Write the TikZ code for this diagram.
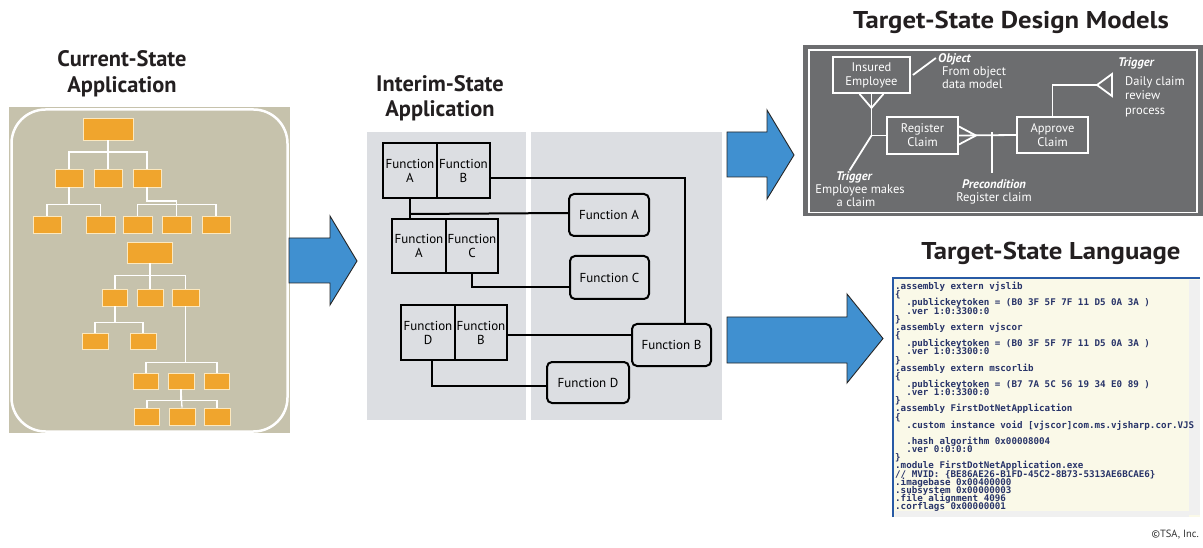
\documentclass[tikz,border=0pt]{standalone}
\usepackage{fontspec}
\setmainfont{PT Sans}
\newfontfamily\codefont{DejaVu Sans Mono}
\newfontfamily\widefont[FakeStretch=1.1]{PT Sans}
\newcommand{\tightlines}{\lineskiplimit=-20pt\relax\lineskip=0pt\relax}
\usetikzlibrary{calc}
\definecolor{beige}{RGB}{198,194,172}
\definecolor{orng}{RGB}{240,165,45}
\definecolor{orngedge}{RGB}{252,232,190}
\definecolor{midgray}{RGB}{220,222,226}
\definecolor{tgray}{RGB}{108,109,111}
\definecolor{arrblue}{RGB}{64,144,208}
\definecolor{titlecol}{RGB}{35,31,32}
\definecolor{codecol}{RGB}{40,52,105}
\definecolor{cream}{RGB}{250,249,232}
\definecolor{winblue}{RGB}{40,90,165}
\tikzset{
  obox/.style={fill=orng, draw=orngedge, line width=0.8pt, inner sep=0pt},
  tline/.style={draw=white, line width=1.3pt},
  title/.style={font=\fontsize{22.4}{26}\selectfont\bfseries, text=titlecol, anchor=base, inner sep=0pt},
  rtitle/.style={font=\widefont\fontsize{24.3}{28}\selectfont\bfseries, text=titlecol, anchor=base, inner sep=0pt},
  fcell/.style={draw=black, line width=2pt, inner sep=0pt, align=center, font=\fontsize{13}{14}\selectfont},
  fround/.style={draw=black, line width=2pt, rounded corners=5pt, inner sep=0pt, font=\fontsize{13}{14}\selectfont},
  fline/.style={draw=black, line width=2pt},
  bigarrow/.style={fill=arrblue, draw=black!85, line width=0.9pt},
  mbox/.style={draw=white, line width=1.8pt, inner sep=0pt, align=center, text=white, font=\fontsize{12.5}{14}\selectfont},
  mline/.style={draw=white, line width=1.8pt},
  mtext/.style={text=white, inner sep=0pt, font=\fontsize{12.5}{13.5}\selectfont},
}
\begin{document}
\begin{tikzpicture}[x=1pt,y=-1pt]
\useasboundingbox (0,0) rectangle (1203,548);
\fill[white] (0,0) rectangle (1203,548);

% ---------- titles ----------
\node[title] (t1a) at (122,67) {Current-State};
\node[title] (t1b) at (122,93) {Application};
\node[title] (t2a) at (440,92) {Interim-State};
\node[title] (t2b) at (440,117) {Application};
\node[rtitle] (t3) at (1011,29) {Target-State Design Models};
\node[rtitle] (t4) at (1051,260) {Target-State Language};

% ---------- current state panel ----------
\fill[beige] (9,107) rectangle (290,433);
\draw[white, line width=2.5pt, rounded corners=34pt] (11.5,109.5) rectangle (287.5,431.5);

% tree 1
\node[obox, minimum width=50, minimum height=22] (n0) at (108,129) {};
\node[obox, minimum width=28, minimum height=18] (n1) at (69,178) {};
\node[obox, minimum width=28, minimum height=18] (n2) at (108,178) {};
\node[obox, minimum width=28, minimum height=18] (n3) at (147,178) {};
\node[obox, minimum width=28, minimum height=17] (n4) at (47,224.5) {};
\node[obox, minimum width=29, minimum height=17] (n5) at (100.5,224.5) {};
\node[obox, minimum width=29, minimum height=17] (n6) at (137.5,224.5) {};
\node[obox, minimum width=29, minimum height=17] (n7) at (176.5,224.5) {};
\node[obox, minimum width=28, minimum height=17] (n8) at (216,224.5) {};
\draw[tline] (n0.south) -- ++(0,11.5) -| (n1.north);
\draw[tline] (n0.south) -- ++(0,11.5) -| (n3.north);
\draw[tline] (n0.south) -- (n2.north);
\draw[tline] (n1.south) -- ++(0,17) -| (n4.north);
\draw[tline] (n1.south) -- ++(0,17) -| (n5.north);
\draw[tline] (n3.south) -- ++(0,13.5) -| (n7.north);
\draw[tline] (n6.north) -- ++(0,-11) -| (n8.north);

% tree 2
\node[obox, minimum width=45, minimum height=21] (m0) at (150,252.5) {};
\node[obox, minimum width=25, minimum height=17] (m1) at (115,297.5) {};
\node[obox, minimum width=26, minimum height=17] (m2) at (150,297.5) {};
\node[obox, minimum width=27, minimum height=17] (m3) at (185.5,297.5) {};
\node[obox, minimum width=26, minimum height=16] (m4) at (95,341) {};
\node[obox, minimum width=26, minimum height=16] (m5) at (143,341) {};
\node[obox, minimum width=25, minimum height=16] (m6) at (146,381) {};
\node[obox, minimum width=26, minimum height=16] (m7) at (181,381) {};
\node[obox, minimum width=25, minimum height=16] (m8) at (217,381) {};
\node[obox, minimum width=25, minimum height=17] (m9) at (147,416.5) {};
\node[obox, minimum width=26, minimum height=17] (m10) at (182,416.5) {};
\node[obox, minimum width=26, minimum height=17] (m11) at (217,416.5) {};
\draw[tline] (m0.south) -- ++(0,12) -| (m1.north);
\draw[tline] (m0.south) -- ++(0,12) -| (m3.north);
\draw[tline] (m0.south) -- (m2.north);
\draw[tline] (m1.south) -- ++(0,16) -| (m4.north);
\draw[tline] (m1.south) -- ++(0,16) -| (m5.north);
\draw[tline] (m3.south) -- ++(0,56) -| (m6.north);
\draw[tline] (m3.south) -- ++(0,56) -| (m8.north);
\draw[tline] (m7.south) -- ++(0,11) -| (m9.north);
\draw[tline] (m7.south) -- ++(0,11) -| (m11.north);
\draw[tline] (m7.south) -- (m10.north);

% ---------- arrows ----------
\draw[bigarrow] (289,238) -- (330,238) -- (330,216) -- (357,261) -- (330,305) -- (330,283) -- (289,283) -- cycle;
\draw[bigarrow] (727,132) -- (767,132) -- (767,110) -- (794,155) -- (767,199) -- (767,177) -- (727,177) -- cycle;
\draw[bigarrow] (727,317) -- (847,317) -- (847,294) -- (883,338.5) -- (847,383) -- (847,363) -- (727,363) -- cycle;

% ---------- interim state panel ----------
\fill[midgray] (367,132) rectangle (526,420);
\fill[midgray] (531,132) rectangle (722,420);

\node[fcell, minimum width=54, minimum height=55] (p1a) at (410,170.5) {Function\\A};
\node[fcell, minimum width=53, minimum height=55] (p1b) at (463.5,170.5) {Function\\B};
\node[fcell, minimum width=54, minimum height=54] (p2a) at (419,246) {Function\\A};
\node[fcell, minimum width=52, minimum height=54] (p2b) at (472,246) {Function\\C};
\node[fcell, minimum width=54, minimum height=55] (p3a) at (428,332.5) {Function\\D};
\node[fcell, minimum width=52, minimum height=55] (p3b) at (481,332.5) {Function\\B};

\node[fround, minimum width=80, minimum height=42] (fA) at (609,215) {Function A};
\node[fround, minimum width=79, minimum height=43] (fC) at (609.5,277.5) {Function C};
\node[fround, minimum width=79, minimum height=42] (fB) at (671.5,345) {Function B};
\node[fround, minimum width=82, minimum height=41] (fD) at (588,382.5) {Function D};

\draw[fline] ($(p1b.east)+(0,7.5)$) -| ($(fB.north)+(13.5,0)$);
\draw[fline] (p1a.south) -- (p1a.south |- p2a.north);
\draw[fline] ($(p1a.south)+(0,15)$) -- ($(fA.west)+(0,-2)$);
\draw[fline] (p2b.south) |- ($(fC.west)+(0,9.5)$);
\draw[fline] ($(p3b.east)+(0,2.5)$) -- ($(fB.west)+(0,-10)$);
\draw[fline] ($(p3a.south)+(4,0)$) |- ($(fD.west)+(0,3.5)$);

% ---------- design models panel ----------
\fill[tgray] (803,45) rectangle (1203,216);
\draw[white, line width=1.5pt] (809,50) rectangle (1197,212.5);

\node[mbox, minimum width=77, minimum height=36] (ie) at (871.5,75) {Insured\\Employee};
\node[mbox, minimum width=71, minimum height=37] (rc) at (922.5,135.5) {Register\\Claim};
\node[mbox, minimum width=71, minimum height=36] (ac) at (1052.5,135) {Approve\\Claim};

\draw[mline] ($(ie.south)+(-12,0)$) -- ($(ie.south)+(0,14)$) -- ($(ie.south)+(12,0)$);
\draw[mline] (ie.south) |- (rc.west);
\coordinate (trg) at (ie.south |- rc.west);
\draw[mline] (trg) -- ++(-22,35);
\draw[mline] (rc.east) -- (ac.west);
\draw[mline] ($(rc.east)+(0,-9)$) -- ($(rc.east)+(17,0)$) -- ($(rc.east)+(0,9)$);
\coordinate (pcn) at (992,135.5);
\draw[mline] ($(pcn)+(0,-3)$) -- ($(pcn)+(0,38)$);
\coordinate (tri) at (1097,85);
\draw[mline] (ac.north) |- (tri);
\draw[mline] (tri) -- (1112,74) -- (1112,96) -- cycle;
\draw[mline] ($(ie.east)+(2,0)$) -- ++(23,-17);

\node[mtext, anchor=base west] (objt) at (938,63) {\bfseries\itshape Object};
\node[mtext, anchor=base west] (obj1) at (942,76) {From object};
\node[mtext, anchor=base west] (obj2) at (942,89) {data model};

\node[mtext, anchor=base west] (trt) at (1118,67) {\bfseries\itshape Trigger};
\node[mtext, anchor=base west] (tr1) at (1125,86) {Daily claim};
\node[mtext, anchor=base west] (tr2) at (1125,100) {review};
\node[mtext, anchor=base west] (tr3) at (1125,115) {process};

\node[mtext, anchor=base] (tlt) at (854,181) {\bfseries\itshape Trigger};
\node[mtext, anchor=base] (tl1) at (860,194) {Employee makes};
\node[mtext, anchor=base] (tl2) at (856,207) {a claim};

\node[mtext, anchor=base] (pct) at (994,189) {\bfseries\itshape Precondition};
\node[mtext, anchor=base] (pc1) at (994,202) {Register claim};

% ---------- language panel ----------
\fill[cream] (893,278) rectangle (1200,517);
\fill[black!6] (1189,280) rectangle (1200,515);
\fill[black!6] (895,511) rectangle (1189,517);
\draw[winblue, line width=2pt] (893,517) -- (893,278) -- (1200,278);
\node[anchor=north west, inner sep=0pt, align=left, text=codecol,
      font=\codefont\bfseries\fontsize{9.2}{8.15}\selectfont\tightlines] (code) at (895,282) {%
.assembly extern vjslib\\
\{\\
\hphantom{xx}.publickeytoken = (B0 3F 5F 7F 11 D5 0A 3A )\\
\hphantom{xx}.ver 1:0:3300:0\\
\}\\
.assembly extern vjscor\\
\{\\
\hphantom{xx}.publickeytoken = (B0 3F 5F 7F 11 D5 0A 3A )\\
\hphantom{xx}.ver 1:0:3300:0\\
\}\\
.assembly extern mscorlib\\
\{\\
\hphantom{xx}.publickeytoken = (B7 7A 5C 56 19 34 E0 89 )\\
\hphantom{xx}.ver 1:0:3300:0\\
\}\\
.assembly FirstDotNetApplication\\
\{\\
\hphantom{xx}.custom instance void [vjscor]com.ms.vjsharp.cor.VJS\\
\mbox{}\\
\hphantom{xx}.hash algorithm 0x00008004\\
\hphantom{xx}.ver 0:0:0:0\\
\}\\
.module FirstDotNetApplication.exe\\
// MVID: \{BE86AE26-B1FD-45C2-8B73-5313AE6BCAE6\}\\
.imagebase 0x00400000\\
.subsystem 0x00000003\\
.file alignment 4096\\
.corflags 0x00000001};

% ---------- copyright ----------
\node[anchor=base east, inner sep=0pt, text=black!80, font=\fontsize{10.5}{12}\selectfont] (copy) at (1199,537) {©TSA, Inc.};
\end{tikzpicture}
\end{document}
